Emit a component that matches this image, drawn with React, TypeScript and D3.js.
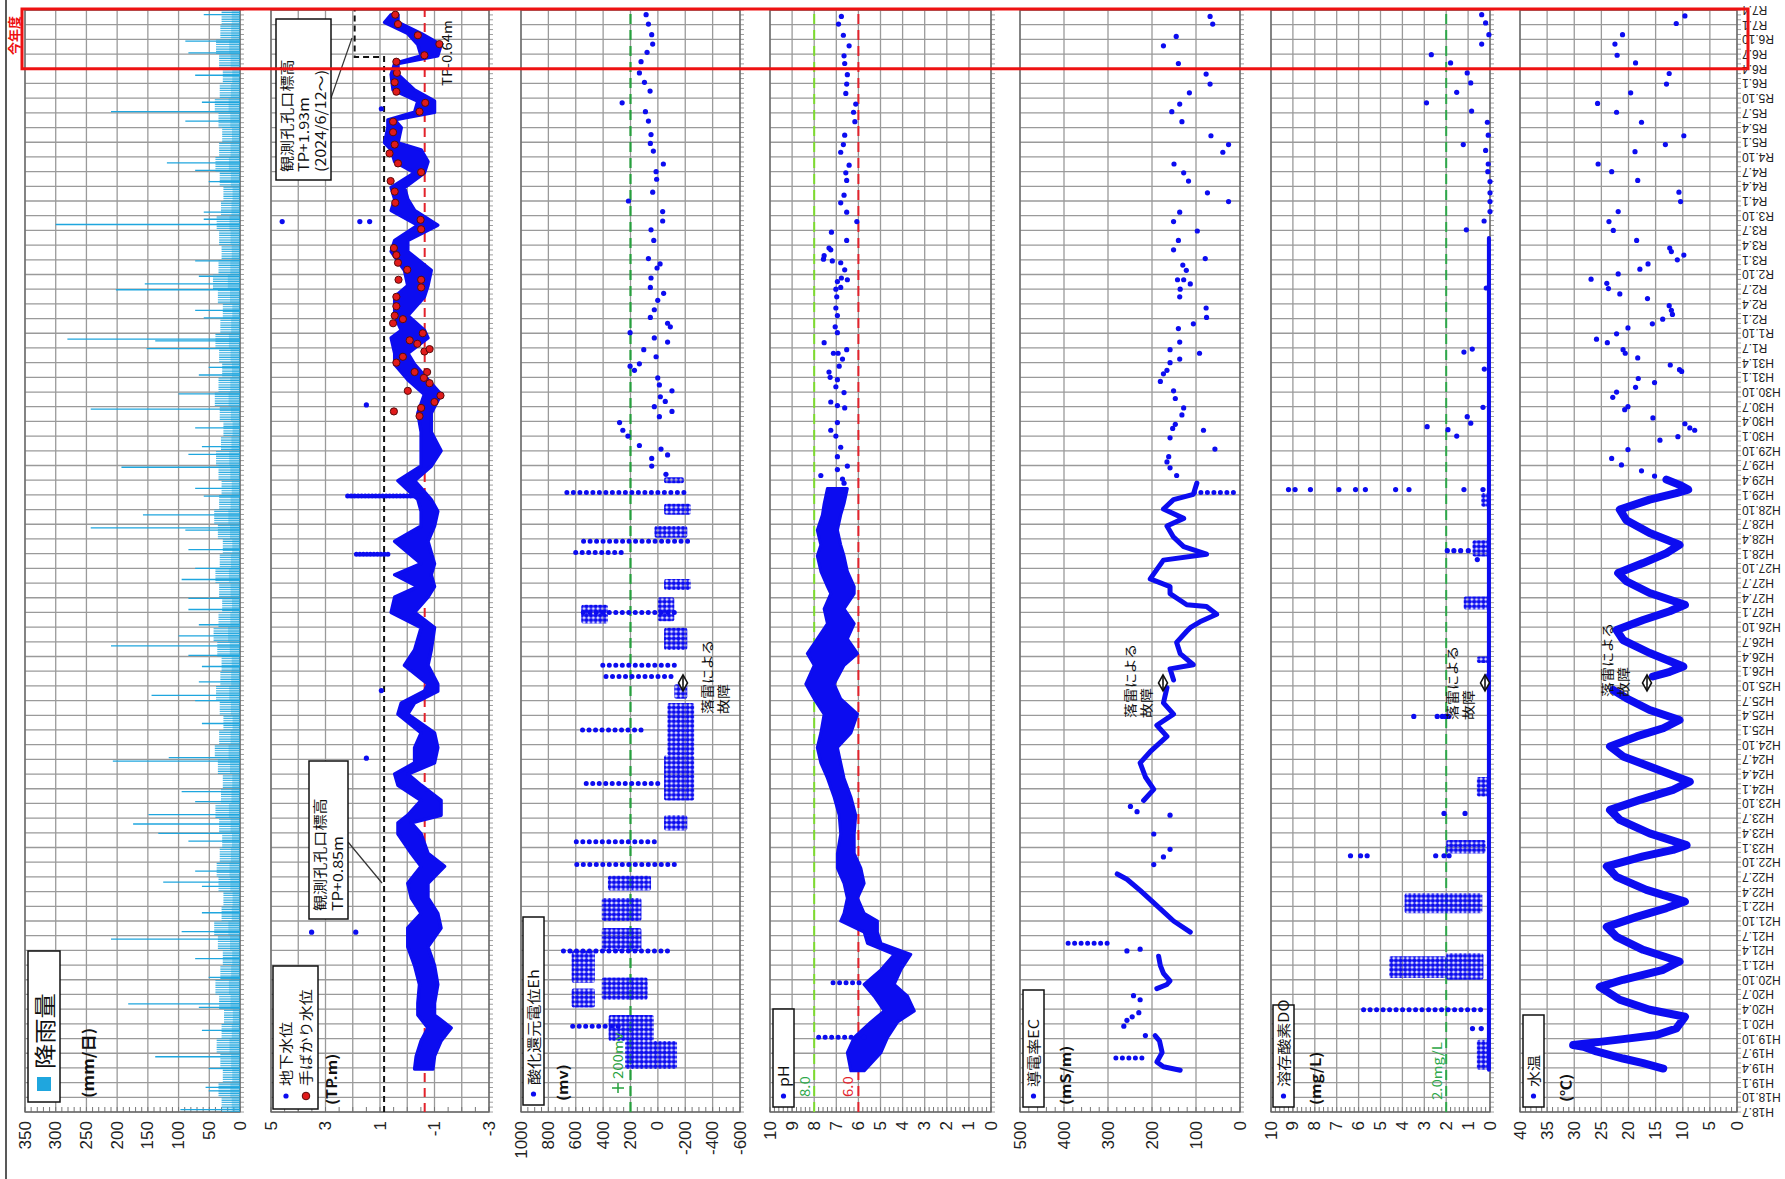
import React from 'react';
import * as d3 from 'd3';

// The source chart is a time-series board that was turned 90deg.
// We draw it upright (time left->right, panels stacked) and rotate the whole group.
const W = 1785;
const H = 1179;
const T0 = 2006.5; // H18.7
const T1 = 2025.25; // R7.4
const BLUE = '#0c0cf0';
const RAIN = '#1fa6de';
const JP = "'Noto Sans CJK JP', 'Noto Sans', sans-serif";
const NUM = "'Liberation Sans', Arial, sans-serif";

// ---------------- tick labels ----------------
const timeLabels = [
  'H18.7', 'H18.10', 'H19.1', 'H19.4', 'H19.7', 'H19.10', 'H20.1', 'H20.4', 'H20.7', 'H20.10',
  'H21.1', 'H21.4', 'H21.7', 'H21.10', 'H22.1', 'H22.4', 'H22.7', 'H22.10', 'H23.1', 'H23.4',
  'H23.7', 'H23.10', 'H24.1', 'H24.4', 'H24.7', 'H24.10', 'H25.1', 'H25.4', 'H25.7', 'H25.10',
  'H26.1', 'H26.4', 'H26.7', 'H26.10', 'H27.1', 'H27.4', 'H27.7', 'H27.10', 'H28.1', 'H28.4',
  'H28.7', 'H28.10', 'H29.1', 'H29.4', 'H29.7', 'H29.10', 'H30.1', 'H30.4', 'H30.7', 'H30.10',
  'H31.1', 'H31.4', 'R1.7', 'R1.10', 'R2.1', 'R2.4', 'R2.7', 'R2.10', 'R3.1', 'R3.4',
  'R3.7', 'R3.10', 'R4.1', 'R4.4', 'R4.7', 'R4.10', 'R5.1', 'R5.4', 'R5.7', 'R5.10',
  'R6.1', 'R6.4', 'R6.7', 'R6.10', 'R7.1', 'R7.4',
];
const rainTicks = [0, 50, 100, 150, 200, 250, 300, 350];
const wlTicks = [-3, -1, 1, 3, 5];
const ehTicks = [-600, -400, -200, 0, 200, 400, 600, 800, 1000];
const phTicks = [0, 1, 2, 3, 4, 5, 6, 7, 8, 9, 10];
const ecTicks = [0, 100, 200, 300, 400, 500];
const doTicks = [0, 1, 2, 3, 4, 5, 6, 7, 8, 9, 10];
const wtTicks = [0, 5, 10, 15, 20, 25, 30, 35, 40];

// ---------------- rainfall (mm/day) ----------------
// [year, mm]
const rainSpikes = [
  [2025.17, 59], [2024.72, 89], [2024.52, 84], [2024.14, 73], [2023.68, 62], [2023.52, 210], [2023.36, 89],
  [2022.65, 119], [2022.52, 73], [2022.33, 51], [2021.81, 59], [2021.69, 59], [2021.6, 300], [2020.98, 73],
  [2020.72, 67], [2020.59, 155], [2020.49, 202], [2020.14, 73], [2020.01, 59], [2019.65, 281], [2019.62, 138],
  [2019.49, 152], [2019.17, 51], [2019.04, 67], [2018.72, 100], [2018.46, 243], [2018.14, 73], [2017.82, 62],
  [2017.69, 84], [2017.47, 193], [2017.11, 73], [2016.98, 59], [2016.66, 158], [2016.44, 243], [2016.4, 89],
  [2016.07, 84], [2015.75, 73], [2015.56, 95], [2015.24, 84], [2015.05, 84], [2014.79, 67], [2014.6, 100],
  [2014.43, 210], [2014.27, 84], [2014.08, 62], [2013.82, 67], [2013.59, 144], [2013.5, 73], [2013.11, 62],
  [2012.53, 116], [2012.47, 207], [2011.95, 95], [2011.78, 73], [2011.56, 149], [2011.4, 174], [2011.24, 133],
  [2011.11, 84], [2010.6, 73], [2010.41, 125], [2010.34, 62], [2009.89, 62], [2009.57, 95], [2009.44, 210],
  [2009.11, 73], [2008.79, 51], [2008.34, 182], [2008.28, 67], [2007.89, 62], [2007.44, 138], [2007.24, 51],
  [2006.92, 56], [2006.86, 51], [2006.54, 97],
];
// extent of the dense band of ordinary rain days, one value per quarter from H18.7
const rainBase = [
  30, 35, 28, 32, 38, 30, 26, 34, 40, 32, 28, 36, 42, 30, 27, 35, 38, 33, 29, 34, 40, 31, 28, 36, 41, 34,
  27, 33, 39, 32, 30, 37, 43, 35, 29, 34, 40, 33, 28, 36, 42, 34, 30, 35, 39, 31, 27, 33, 41, 35, 29, 34,
  40, 32, 28, 36, 44, 35, 30, 34, 38, 31, 27, 33, 40, 34, 29, 35, 41, 33, 28, 34, 39, 32, 30, 33,
];

// ---------------- groundwater level (TP.m) ----------------
// [year, low, high]
const wlBand = [
  [2007.23, -0.94, -0.27], [2007.45, -1.0, -0.33], [2007.71, -1.24, -0.51], [2007.93, -1.61, -0.76],
  [2008.15, -1.0, -0.39], [2008.35, -1.0, -0.39], [2008.67, -1.12, -0.45], [2008.99, -1.0, -0.27],
  [2009.31, -0.76, -0.02], [2009.63, -1.24, -0.02], [2009.88, -1.12, -0.51], [2010.14, -0.76, -0.15],
  [2010.39, -0.76, -0.02], [2010.68, -1.37, -0.51], [2010.9, -0.76, -0.15], [2011.23, -0.51, 0.34],
  [2011.42, -0.15, 0.34], [2011.55, -1.24, -0.02], [2011.8, -1.24, -0.51], [2012.06, -0.51, 0.34],
  [2012.25, -0.02, 0.46], [2012.44, -1.0, -0.27], [2012.7, -1.12, -0.27], [2012.95, -1.0, -0.51],
  [2013.27, -0.02, 0.34], [2013.46, -0.27, 0.22], [2013.66, -1.12, -0.63], [2013.78, -1.12, -0.76],
  [2014.1, -0.76, 0.1], [2014.36, -0.88, -0.27], [2014.74, -1.0, -0.51], [2015.0, -0.27, 0.59],
  [2015.26, -0.76, 0.46], [2015.44, -1.0, -0.39], [2015.64, -0.88, 0.46], [2015.83, -1.0, -0.51],
  [2016.21, -0.76, 0.46], [2016.47, -1.0, -0.51], [2016.72, -1.12, -0.51], [2016.92, -0.88, -0.39],
  [2017.24, -0.27, 0.34], [2017.49, -0.88, -0.51], [2017.75, -1.24, -0.51], [2018.07, -0.88, -0.51],
  [2018.39, -0.88, -0.39], [2018.71, -1.24, -0.63], [2018.96, -0.76, -0.02], [2019.22, -0.27, 0.46],
  [2019.41, -0.02, 0.46], [2019.67, -0.76, 0.59], [2019.8, -0.63, 0.22], [2020.05, -0.02, 0.46],
  [2020.37, -0.63, 0.46], [2020.56, -0.76, -0.02], [2020.82, -0.88, 0.1], [2021.14, -0.02, 0.59],
  [2021.33, -0.02, 0.46], [2021.59, -1.12, -0.39], [2021.84, -0.27, 0.59], [2022.03, -0.02, 0.46],
  [2022.23, 0.1, 0.59], [2022.48, -0.63, -0.27], [2022.67, -0.76, 0.46], [2022.87, -0.51, 0.59],
  [2022.99, 0.34, 0.83], [2023.25, 0.22, 0.71], [2023.38, 0.46, 0.71], [2023.51, -1.0, -0.27],
  [2023.7, -1.0, -0.39], [2023.89, -0.27, 0.52], [2024.15, 0.34, 0.59], [2024.34, 0.34, 0.46],
  [2024.47, -1.12, -0.51], [2024.66, -1.24, -0.39], [2024.85, -0.51, -0.02], [2025.04, 0.34, 0.83],
  [2025.17, 0.34, 0.59],
];
const wlStreaks = [[2015.99, 0.71, 1.99], [2016.98, -0.51, 2.29]];
const wlDots = [
  [2009.56, 3.51], [2009.56, 1.89], [2012.52, 1.5], [2013.67, 0.95], [2021.65, 4.59], [2021.65, 1.74],
  [2021.65, 1.38], [2018.53, 1.5], [2023.57, 0.95],
];
const wlManual = [
  [2025.17, 0.44], [2025.01, 0.34], [2024.82, -0.39], [2024.67, -1.18], [2024.48, -0.63], [2024.37, 0.4],
  [2024.18, 0.38], [2024.02, 0.46], [2023.86, 0.4], [2023.67, -0.66], [2023.52, -0.45], [2023.35, 0.52],
  [2023.17, 0.52], [2022.96, 0.46], [2022.81, 0.65], [2022.64, 0.34], [2022.49, -0.51], [2022.34, 0.61],
  [2022.16, 0.46], [2021.97, 0.44], [2021.68, -0.49], [2021.52, -0.51], [2021.2, 0.49], [2021.08, 0.4],
  [2020.95, 0.34], [2020.83, 0.0], [2020.66, -0.51], [2020.53, -0.51], [2020.66, 0.32], [2020.37, 0.4],
  [2020.21, 0.4], [2020.05, 0.46], [2019.92, 0.52], [2019.99, 0.16], [2019.75, -0.57], [2019.63, -0.09],
  [2019.57, -0.37], [2019.44, -0.63], [2019.48, -0.82], [2019.25, 0.4], [2019.35, 0.16], [2019.09, -0.27],
  [2019.09, -0.73], [2018.99, -0.61], [2018.9, -0.82], [2018.77, -0.02], [2018.69, -1.22], [2018.58, -1.0],
  [2018.48, -0.51], [2018.42, 0.49], [2018.34, -0.45],
];

// ---------------- redox potential Eh (mV) ----------------
// dense clouds [from, to, low, high]
const ehClouds = [
  [2007.23, 2007.71, -140, 240], [2007.71, 2008.15, 30, 360], [2008.28, 2008.6, 460, 630],
  [2008.7, 2009.24, 460, 630], [2008.41, 2008.79, 75, 410], [2009.24, 2009.63, 120, 410],
  [2009.75, 2010.14, 120, 410], [2010.27, 2010.52, 50, 365], [2011.29, 2011.55, -215, -45],
  [2011.8, 2012.57, -265, -45], [2012.57, 2013.46, -265, -70], [2013.53, 2013.78, -215, -120],
  [2014.36, 2014.74, -215, -45], [2014.81, 2015.13, 365, 560], [2014.85, 2015.26, -120, 0],
  [2015.38, 2015.57, -240, -45], [2016.27, 2016.47, -215, 25], [2016.66, 2016.85, -240, -45],
  [2017.2, 2017.3, -190, -45],
];
const ehStreaks = [
  [2007.96, 290, 630], [2009.24, -70, 700], [2010.71, -120, 607], [2011.1, 26, 632], [2012.09, 1, 535],
  [2013.0, 123, 560], [2013.91, -96, 390], [2014.1, -120, 438], [2015.0, -120, 560], [2016.02, 268, 607],
  [2016.21, -217, 580], [2017.04, -190, 705],
];
const ehDots = [
  [2025.17, 86], [2025.01, 69], [2024.83, 45], [2024.67, 38], [2024.53, 79], [2024.37, 123], [2024.18, 135],
  [2024.02, 98], [2023.87, 57], [2023.67, 261], [2023.52, 91], [2023.36, 69], [2023.13, 50], [2022.98, 55],
  [2022.85, 33], [2022.63, -40], [2022.5, 13], [2022.37, 9], [2022.15, 38], [2022.0, 215], [2021.82, -35],
  [2021.66, -35], [2021.51, 50], [2021.33, 30], [2021.02, 69], [2020.93, -16], [2020.86, 6], [2020.69, 50],
  [2020.53, 55], [2020.43, -42], [2020.31, 1], [2020.15, 26], [2020.02, 55], [2019.92, -71], [2019.86, -91],
  [2019.76, 203], [2019.67, 26], [2019.6, -71], [2019.47, 103], [2019.35, 13], [2019.19, 203], [2019.12, 171],
  [2019.23, 135], [2018.99, 1], [2018.87, -11], [2018.77, -103], [2018.67, -18], [2018.59, -54], [2018.5, 26],
  [2018.42, -103], [2018.33, -11], [2018.23, 280], [2018.1, 256], [2018.0, 219], [2017.84, 135],
  [2017.78, -23], [2017.68, -71], [2017.62, 45], [2017.49, 45], [2017.35, -59],
];

// ---------------- pH ----------------
const phBand = [
  [2007.2, 5.74, 6.34], [2007.51, 4.98, 6.5], [2007.77, 4.68, 6.19], [2008.03, 4.23, 5.44], [2008.22, 3.47, 4.83],
  [2008.47, 3.78, 5.29], [2008.67, 4.38, 5.74], [2008.92, 4.08, 4.98], [2009.18, 3.63, 4.38], [2009.37, 4.98, 5.59],
  [2009.56, 5.14, 5.74], [2009.75, 5.14, 6.8], [2009.88, 5.74, 6.65], [2010.14, 6.04, 6.5], [2010.39, 5.74, 6.65],
  [2010.65, 5.89, 6.95], [2010.9, 6.19, 6.95], [2011.23, 6.19, 6.8], [2011.55, 6.12, 6.87], [2011.86, 6.34, 7.1],
  [2012.18, 6.65, 7.4], [2012.44, 6.8, 7.7], [2012.7, 6.95, 7.86], [2012.95, 6.34, 7.7], [2013.27, 6.04, 7.55],
  [2013.53, 6.8, 8.0], [2013.78, 7.1, 8.38], [2014.1, 6.65, 8.0], [2014.3, 6.04, 8.31], [2014.55, 6.5, 7.86],
  [2014.81, 6.19, 7.4], [2015.06, 6.65, 7.55], [2015.32, 6.19, 7.25], [2015.44, 6.19, 7.4], [2015.7, 6.5, 7.7],
  [2015.96, 6.65, 7.86], [2016.15, 6.8, 7.7], [2016.4, 6.95, 7.86], [2016.66, 6.8, 7.63], [2016.85, 6.65, 7.55],
  [2017.11, 6.5, 7.4],
];
const phStreaks = [[2007.77, 5.74, 7.93], [2008.7, 5.97, 7.18]];
const phDots = [
  [2017.2, 6.65], [2017.27, 6.72], [2017.43, 6.95], [2017.33, 7.7], [2017.49, 6.5], [2017.65, 6.95], [2017.81, 6.8],
  [2018.0, 7.02], [2018.1, 7.25], [2018.23, 6.95], [2018.48, 6.62], [2018.52, 6.95], [2018.58, 7.25], [2018.74, 6.65],
  [2018.84, 7.02], [2018.96, 6.95], [2019.0, 7.28], [2019.09, 7.33], [2019.19, 6.87], [2019.31, 6.72], [2019.41, 6.92],
  [2019.47, 6.53], [2019.59, 7.55], [2019.41, 7.13], [2019.76, 6.95], [2019.86, 7.05], [2020.05, 6.95], [2020.18, 7.02],
  [2020.37, 6.98], [2020.5, 7.02], [2020.53, 6.8], [2020.63, 6.95], [2020.69, 6.77], [2020.66, 6.5], [2020.83, 6.62],
  [2020.95, 6.8], [2020.98, 7.18], [2021.01, 7.58], [2021.07, 7.55], [2021.17, 7.25], [2021.2, 7.33], [2021.33, 6.53],
  [2021.47, 7.22], [2021.65, 6.07], [2021.81, 6.53], [2021.97, 6.8], [2022.1, 6.65], [2022.35, 6.53], [2022.48, 6.57],
  [2022.61, 6.42], [2022.83, 6.8], [2022.96, 6.68], [2023.12, 6.62], [2023.35, 6.16], [2023.51, 6.22], [2023.65, 6.12],
  [2023.83, 6.57], [2023.99, 6.53], [2024.15, 6.5], [2024.34, 6.62], [2024.47, 6.65], [2024.64, 6.42], [2024.82, 6.68],
  [2025.01, 6.9], [2025.14, 6.77],
];

// ---------------- electric conductivity EC (mS/m) ----------------
const ecRuns = [
  [[2007.21, 136], [2007.27, 174], [2007.35, 189], [2007.51, 177], [2007.71, 183], [2007.8, 193]],
  [[2008.6, 189], [2008.67, 166], [2008.73, 159], [2008.86, 174], [2008.99, 181], [2009.15, 185]],
  [[2009.56, 113], [2009.75, 151], [2010.01, 189], [2010.27, 227], [2010.46, 257], [2010.55, 279]],
  [[2011.8, 219], [2011.99, 196], [2012.2, 215], [2012.44, 227], [2012.63, 204], [2012.89, 166], [2013.08, 189],
    [2013.27, 151], [2013.46, 174], [2013.72, 166]],
  [[2013.85, 151], [2014.04, 159], [2014.11, 106], [2014.3, 136], [2014.49, 144], [2014.68, 121], [2014.74, 113],
    [2014.84, 91], [2014.97, 53], [2015.1, 76], [2015.13, 121], [2015.32, 159], [2015.44, 159], [2015.57, 204],
    [2015.89, 174], [2015.99, 76], [2016.12, 128], [2016.28, 151], [2016.47, 166], [2016.6, 128], [2016.76, 174],
    [2016.92, 151], [2017.01, 106], [2017.2, 98]],
];
const ecStreaks = [[2007.42, 223, 283], [2009.37, 302, 397], [2017.04, 15, 106]];
const ecDots = [
  [2007.96, 264], [2008.06, 257], [2008.12, 245], [2008.19, 230], [2008.41, 227], [2008.48, 242], [2007.8, 215],
  [2009.24, 257], [2009.27, 227], [2010.71, 196], [2010.84, 174], [2010.97, 159], [2011.23, 196], [2011.55, 159],
  [2011.7, 249], [2011.61, 234], [2017.33, 144], [2017.46, 159], [2017.56, 166], [2018.1, 83], [2017.78, 57],
  [2017.65, 162], [2017.97, 159], [2018.13, 153], [2018.2, 147], [2018.36, 132], [2018.48, 128], [2018.64, 147],
  [2018.77, 151], [2018.93, 181], [2019.06, 174], [2019.12, 166], [2019.25, 159], [2019.31, 137], [2019.41, 92],
  [2019.47, 159], [2019.6, 137], [2019.83, 140], [2019.91, 106], [2020.02, 76], [2020.18, 77], [2020.37, 137],
  [2020.5, 136], [2020.59, 113], [2020.66, 128], [2020.66, 142], [2020.82, 122], [2020.91, 130], [2021.17, 151],
  [2021.33, 140], [2021.02, 79], [2021.49, 97], [2021.65, 151], [2021.81, 137], [2021.99, 26], [2022.14, 74],
  [2022.34, 117], [2022.48, 128], [2022.63, 150], [2022.83, 39], [2022.96, 26], [2023.11, 66], [2023.35, 132],
  [2023.52, 155], [2023.65, 137], [2023.84, 115], [2023.99, 68], [2024.16, 77], [2024.34, 140], [2024.64, 174],
  [2024.8, 145], [2025.01, 62], [2025.14, 68],
];

// ---------------- dissolved oxygen DO (mg/L) ----------------
const doBaseline = [[2007.22, 0.05], [2021.37, 0.05]];
const doClouds = [
  [2007.22, 2007.73, 0, 0.6], [2008.78, 2009.15, 2.0, 4.6], [2008.75, 2009.2, 0.3, 2.0], [2009.88, 2010.22, 0.35, 3.9],
  [2010.9, 2011.13, 0.2, 2.0], [2011.87, 2012.2, 0, 0.6], [2013.74, 2013.97, 0, 0.25], [2014.14, 2014.25, 0, 0.6],
  [2015.05, 2015.27, 0, 1.2], [2015.95, 2016.23, 0, 0.8], [2016.8, 2017.03, 0, 0.4],
];
const doStreaks = [[2008.24, 0.43, 5.84]];
const doDots = [
  [2007.92, 0.8], [2007.92, 0.4], [2010.86, 6.37], [2010.86, 5.91], [2010.86, 5.61], [2010.86, 2.48], [2010.86, 2.1],
  [2010.86, 1.87], [2011.58, 2.1], [2011.58, 1.14], [2013.23, 3.48], [2013.23, 2.41], [2013.23, 2.18], [2013.23, 2.03],
  [2013.23, 1.88], [2016.05, 1.95], [2016.05, 1.65], [2016.05, 1.34], [2016.05, 0.99], [2015.9, 0.58], [2017.09, 9.2],
  [2017.09, 8.9], [2017.09, 8.2], [2017.09, 6.9], [2017.09, 6.14], [2017.09, 5.69], [2017.09, 4.31], [2017.09, 3.7],
  [2017.09, 1.19], [2017.09, 0.32], [2018.0, 1.52], [2018.11, 1.92], [2018.16, 2.87], [2018.22, 0.88], [2018.33, 1.04],
  [2018.49, 0.32], [2019.14, 0.26], [2019.43, 1.19], [2019.48, 0.81], [2020.52, 0.17], [2021.51, 1.08], [2021.66, 0.27],
  [2021.82, 0], [2021.99, 0], [2022.14, 0], [2022.33, 0], [2022.5, 0.1], [2022.63, 0.08], [2022.86, 0.2], [2022.96, 1.22],
  [2023.12, 0.08], [2023.34, 0.12], [2023.53, 0.84], [2023.67, 2.9], [2023.85, 1.52], [2024.01, 0.88], [2024.18, 1.04],
  [2024.35, 1.8], [2024.49, 2.68], [2024.67, 0.38], [2024.83, 0.05], [2025.03, 0.2], [2025.17, 0.38],
];

// ---------------- water temperature (deg C) ----------------
const wtRuns = [
  [[2007.24, 13.6], [2007.33, 17.3], [2007.41, 21.0], [2007.53, 25.9], [2007.61, 28.3], [2007.64, 30.2], [2007.68, 26.5],
    [2007.74, 21.0], [2007.81, 14.8], [2007.92, 11.2], [2008.12, 9.6], [2008.24, 16.1], [2008.41, 21.6], [2008.63, 25.3],
    [2008.75, 21.0], [2008.92, 13.6], [2009.06, 10.6], [2009.26, 17.3], [2009.48, 22.2], [2009.65, 24.0], [2009.82, 18.5],
    [2009.97, 13.0], [2010.08, 9.6], [2010.28, 16.7], [2010.5, 22.2], [2010.68, 24.0], [2010.85, 17.3], [2010.96, 11.8],
    [2011.04, 9.3], [2011.24, 16.1], [2011.47, 21.6], [2011.64, 23.4], [2011.81, 17.9], [2011.98, 11.8], [2012.12, 8.7],
    [2012.38, 16.1], [2012.55, 21.0], [2012.72, 23.4], [2012.89, 18.5], [2013.03, 13.6], [2013.17, 10.6], [2013.34, 16.1],
    [2013.54, 20.4], [2013.68, 22.8]],
  [[2013.91, 15.5], [2013.99, 12.4], [2014.08, 9.9], [2014.31, 16.1], [2014.53, 21.0], [2014.7, 22.2], [2014.87, 17.3],
    [2015.02, 12.4], [2015.13, 9.6], [2015.33, 16.1], [2015.53, 20.4], [2015.67, 21.9], [2015.84, 17.3], [2016.01, 13.0],
    [2016.15, 10.6], [2016.35, 16.1], [2016.57, 20.4], [2016.75, 21.6], [2016.92, 16.1], [2017.03, 11.2], [2017.09, 9.0],
    [2017.17, 10.6], [2017.26, 13.0]],
];
const wtDots = [
  [2017.32, 15.2], [2017.41, 17.6], [2017.51, 21.3], [2017.62, 23.1], [2017.77, 20.1], [2017.93, 14.2], [2017.99, 10.9],
  [2018.1, 7.8], [2018.14, 8.7], [2018.21, 9.6], [2018.31, 15.5], [2018.45, 20.7], [2018.5, 20.1], [2018.66, 22.9],
  [2018.75, 22.2], [2018.83, 18.7], [2018.91, 15.2], [2018.98, 18.2], [2019.1, 10.2], [2019.13, 10.6], [2019.21, 12.3],
  [2019.33, 18.3], [2019.41, 20.6], [2019.47, 21.0], [2019.59, 23.9], [2019.65, 25.9], [2019.74, 22.2], [2019.84, 20.1],
  [2019.91, 15.6], [2019.99, 13.7], [2020.07, 11.9], [2020.14, 12.1], [2020.22, 12.5], [2020.34, 16.5], [2020.42, 21.6],
  [2020.51, 23.7], [2020.6, 24.0], [2020.67, 26.9], [2020.76, 21.9], [2020.84, 17.9], [2020.93, 16.4], [2021.0, 11.0],
  [2021.08, 9.8], [2021.14, 12.1], [2021.2, 12.4], [2021.33, 18.5], [2021.5, 22.8], [2021.65, 23.6], [2021.82, 21.9],
  [2021.99, 10.4], [2022.15, 10.7], [2022.35, 18.3], [2022.5, 23.1], [2022.63, 25.6], [2022.84, 18.8], [2022.96, 13.2],
  [2023.11, 9.8], [2023.34, 17.6], [2023.51, 22.2], [2023.66, 25.7], [2023.84, 19.6], [2023.99, 13.0], [2024.17, 12.5],
  [2024.35, 18.7], [2024.48, 22.1], [2024.67, 22.5], [2024.83, 21.1], [2025.02, 11.2], [2025.15, 9.6],
];

// ---------------- layout ----------------
// un-rotated frame: x = time (67..1169), y = panels stacked (picture x)
const t = d3.scaleLinear().domain([T0, T1]).range([67, 1169]);

interface Panel {
  key: string;
  top: number;
  bottom: number;
  min: number;
  max: number;
  grid: number;
  minor: number;
  ticks: number[];
}

const panels: Panel[] = [
  { key: 'rain', top: 25, bottom: 240, min: 0, max: 350, grid: 50, minor: 10, ticks: rainTicks },
  { key: 'wl', top: 271, bottom: 489, min: -3, max: 5, grid: 1, minor: 0.5, ticks: wlTicks },
  { key: 'eh', top: 521, bottom: 740, min: -600, max: 1000, grid: 200, minor: 50, ticks: ehTicks },
  { key: 'ph', top: 770, bottom: 991, min: 0, max: 10, grid: 1, minor: 0.2, ticks: phTicks },
  { key: 'ec', top: 1020, bottom: 1240, min: 0, max: 500, grid: 100, minor: 20, ticks: ecTicks },
  { key: 'do', top: 1271, bottom: 1490, min: 0, max: 10, grid: 1, minor: 0.2, ticks: doTicks },
  { key: 'wt', top: 1520, bottom: 1737, min: 0, max: 40, grid: 5, minor: 1, ticks: wtTicks },
];

const scaleOf = (key: string) => {
  const p = panels.find((q) => q.key === key)!;
  return d3.scaleLinear().domain([p.min, p.max]).range([p.bottom, p.top]);
};

const quarters = timeLabels.map((_, i) => T0 + i * 0.25);
const months = d3.range(0, 226).map((m) => T0 + m / 12);

function PanelFrame({ p }: { p: Panel }) {
  const y = scaleOf(p.key);
  const grid = d3.range(p.min, p.max + 1e-6, p.grid);
  const minor = d3.range(p.min, p.max + 1e-6, p.minor);
  const x0 = t(T0);
  const x1 = t(T1);
  return (
    <g>
      <rect x={x0} y={p.top} width={x1 - x0} height={p.bottom - p.top} fill="#fff" />
      {quarters.map((q, i) => (
        <line key={'q' + i} x1={t(q)} x2={t(q)} y1={p.top} y2={p.bottom} stroke="#9a9a9a" strokeWidth={1.3} />
      ))}
      {grid.map((v, i) => (
        <line key={'g' + i} x1={x0} x2={x1} y1={y(v)} y2={y(v)} stroke="#9a9a9a" strokeWidth={1.3} />
      ))}
      {minor.map((v, i) => (
        <line key={'m' + i} x1={x0} x2={x0 + 5} y1={y(v)} y2={y(v)} stroke="#777" strokeWidth={1} />
      ))}
      {months.map((m, i) => (
        <line key={'t' + i} x1={t(m)} x2={t(m)} y1={p.bottom} y2={p.bottom + 4} stroke="#888" strokeWidth={0.8} />
      ))}
      <rect x={x0} y={p.top} width={x1 - x0} height={p.bottom - p.top} fill="none" stroke="#666" strokeWidth={1.3} />
      {p.ticks.map((v) => (
        <text key={'l' + v} x={x0 - 9} y={y(v)} textAnchor="end" dominantBaseline="central" fontSize={17}
          fontFamily={NUM} fill="#222">{v}</text>
      ))}
    </g>
  );
}

function Dots({ data, y, r = 2.6, fill = BLUE, stroke = 'none' }: any) {
  return (
    <g>
      {data.map((d: number[], i: number) => (
        <circle key={i} cx={t(d[0])} cy={y(d[1])} r={r} fill={fill} stroke={stroke} strokeWidth={1} />
      ))}
    </g>
  );
}

function Streaks({ data, y, gap = 6.5 }: any) {
  return (
    <g>
      {data.map((d: number[], i: number) => (
        <line key={i} x1={t(d[0])} x2={t(d[0])} y1={y(d[1])} y2={y(d[2])} stroke={BLUE} strokeWidth={5}
          strokeLinecap="round" strokeDasharray={`0 ${gap}`} />
      ))}
    </g>
  );
}

function Clouds({ data, y }: any) {
  return (
    <g>
      {data.map((d: number[], i: number) => (
        <rect key={i} x={t(d[0])} width={t(d[1]) - t(d[0])} y={y(d[3])} height={y(d[2]) - y(d[3])}
          fill="url(#cloud)" rx={2} />
      ))}
    </g>
  );
}

function Band({ data, y, w = 3.5 }: any) {
  const area = d3.area<number[]>().x((d) => t(d[0])).y0((d) => y(d[1])).y1((d) => y(d[2]));
  return <path d={area(data) || ''} fill={BLUE} stroke={BLUE} strokeWidth={w} strokeLinejoin="round" />;
}

function Runs({ data, y, w }: any) {
  const line = d3.line<number[]>().x((d) => t(d[0])).y((d) => y(d[1]));
  return (
    <g>
      {data.map((run: number[][], i: number) => (
        <path key={i} d={line(run) || ''} fill="none" stroke={BLUE} strokeWidth={w} strokeLinejoin="round"
          strokeLinecap="round" />
      ))}
    </g>
  );
}

// horizontal text in the un-rotated frame, slightly widened like the source
function Tx({ x, y, size = 14, fill = '#111', weight = 400, sx = 1.15, children }: any) {
  return (
    <text transform={`translate(${x},${y}) scale(${sx},1)`} fontSize={size} fill={fill} fontWeight={weight}
      fontFamily={JP}>{children}</text>
  );
}

function Legend({ x, y, w, label }: any) {
  return (
    <g>
      <rect x={x} y={y} width={w} height={21} fill="#fff" stroke="#111" strokeWidth={1.5} />
      <circle cx={x + 11} cy={y + 10.5} r={2.6} fill={BLUE} />
      <Tx x={x + 20} y={y + 16} size={14}>{label}</Tx>
    </g>
  );
}

function Fault({ x, lineY }: any) {
  return (
    <g>
      <Tx x={x} y={lineY} size={13}>落雷による</Tx>
      <Tx x={x} y={lineY + 16} size={13}>故障</Tx>
    </g>
  );
}

function FaultMark({ x, y }: any) {
  return (
    <g transform={`translate(${x},${y})`}>
      <path d="M-8,0 L0,-4.5 L8,0 L0,4.5 Z" fill="#fff" stroke="#111" strokeWidth={1.6} />
      <line x1={-8} x2={8} y1={0} y2={0} stroke="#111" strokeWidth={1.6} />
    </g>
  );
}

export default function App() {
  const yR = scaleOf('rain');
  const yW = scaleOf('wl');
  const yE = scaleOf('eh');
  const yP = scaleOf('ph');
  const yC = scaleOf('ec');
  const yD = scaleOf('do');
  const yT = scaleOf('wt');

  const rainArea = d3
    .area<number>()
    .x((_, i) => t(T0 + i * 0.25))
    .y0(yR(0))
    .y1((d) => yR(d))
    .curve(d3.curveStepAfter);

  const faultX = t(2013.8);

  return (
    <svg width={W} height={H} style={{ position: 'absolute', left: 0, top: 0, background: '#fff' }}>
      <defs>
        <pattern id="cloud" width="4.6" height="4.6" patternUnits="userSpaceOnUse">
          <circle cx="2.3" cy="2.3" r="2.2" fill={BLUE} />
        </pattern>
        {/* thin daily strokes for the ordinary rain days */}
        <pattern id="hatch" width="2.3" height="12" patternUnits="userSpaceOnUse">
          <line x1="0.6" x2="0.6" y1="0" y2="12" stroke={RAIN} strokeWidth="1.1" />
        </pattern>
      </defs>
      <rect width={W} height={H} fill="#fff" />
      <g transform={`translate(0,${H}) rotate(-90)`}>
        <line x1={0} x2={H} y1={6} y2={6} stroke="#222" strokeWidth={1.5} />
        {panels.map((p) => (
          <PanelFrame key={p.key} p={p} />
        ))}

        {/* time labels */}
        {timeLabels.map((lab, i) => (
          <text key={lab} transform={`translate(${t(quarters[i])},1742) rotate(-90)`} textAnchor="end"
            dominantBaseline="central" fontSize={12} fontFamily={NUM} fill="#222">{lab}</text>
        ))}

        {/* rainfall */}
        <path d={rainArea(rainBase) || ''} fill="url(#hatch)" />
        <path d={rainArea(rainBase.map((v) => v * 0.45)) || ''} fill={RAIN} opacity={0.35} />
        {rainSpikes.map((d, i) => (
          <line key={i} x1={t(d[0])} x2={t(d[0])} y1={yR(0)} y2={yR(d[1])} stroke={RAIN} strokeWidth={1.3} />
        ))}
        <rect x={77} y={28} width={151} height={32} fill="#fff" stroke="#111" strokeWidth={1.5} />
        <rect x={88} y={37} width={14} height={14} fill={RAIN} />
        <Tx x={110} y={53} size={22}>降雨量</Tx>
        <Tx x={81} y={94} size={15} weight={700}>(mm/日)</Tx>

        {/* groundwater level */}
        <line x1={t(T0)} x2={t(T1)} y1={yW(-0.64)} y2={yW(-0.64)} stroke="#e3222b" strokeWidth={2}
          strokeDasharray="9 6" />
        <path d={`M${t(T0)},${yW(0.85)} H${t(2024.45)} V${yW(1.93)} H${t(T1)}`} fill="none" stroke="#111"
          strokeWidth={2} strokeDasharray="6 4" />
        <Band data={wlBand} y={yW} />
        <Streaks data={wlStreaks} y={yW} gap={3.5} />
        <Dots data={wlDots} y={yW} />
        <Dots data={wlManual} y={yW} r={3.6} fill="#e01b1b" stroke="#5a0a0a" />
        <rect x={70} y={273} width={143} height={45} fill="#fff" stroke="#111" strokeWidth={1.5} />
        <circle cx={83} cy={286} r={2.6} fill={BLUE} />
        <Tx x={93} y={291} size={14}>地下水位</Tx>
        <circle cx={83} cy={306} r={3.8} fill="#e01b1b" stroke="#5a0a0a" />
        <Tx x={93} y={311} size={14}>手ばかり水位</Tx>
        <Tx x={74} y={337} size={14} weight={700}>(TP.m)</Tx>
        <line x1={337} y1={348} x2={296} y2={382} stroke="#333" strokeWidth={1.2} />
        <rect x={260} y={309} width={158} height={39} fill="#fff" stroke="#111" strokeWidth={1.5} />
        <Tx x={268} y={325} size={14}>観測孔孔口標高</Tx>
        <Tx x={268} y={343} size={14}>TP+0.85m</Tx>
        <line x1={1081} y1={331} x2={1141} y2={352} stroke="#333" strokeWidth={1.2} />
        <rect x={999} y={276} width={161} height={55} fill="#fff" stroke="#111" strokeWidth={1.5} />
        <Tx x={1007} y={292} size={14}>観測孔孔口標高</Tx>
        <Tx x={1007} y={309} size={14}>TP+1.93m</Tx>
        <Tx x={1007} y={326} size={14}>(2024/6/12～)</Tx>
        <Tx x={1093} y={452} size={13}>TP-0.64m</Tx>

        {/* Eh */}
        <line x1={t(T0)} x2={t(T1)} y1={yE(200)} y2={yE(200)} stroke="#25a03c" strokeWidth={2.2}
          strokeDasharray="10 6" />
        <Clouds data={ehClouds} y={yE} />
        <Streaks data={ehStreaks} y={yE} />
        <Dots data={ehDots} y={yE} />
        <Legend x={74} y={523} w={188} label="酸化還元電位Eh" />
        <Tx x={78} y={568} size={14} weight={700}>(mv)</Tx>
        <line x1={91} x2={91} y1={612} y2={624} stroke="#25a03c" strokeWidth={1.5} />
        <line x1={86} x2={96} y1={618} y2={618} stroke="#25a03c" strokeWidth={1.5} />
        <Tx x={100} y={623} size={13} fill="#25a03c">200mv</Tx>
        <Fault x={465} lineY={712} />
        <FaultMark x={faultX} y={683} />

        {/* pH */}
        <line x1={t(T0)} x2={t(T1)} y1={yP(8)} y2={yP(8)} stroke="#7ddc2e" strokeWidth={2} strokeDasharray="10 6" />
        <line x1={t(T0)} x2={t(T1)} y1={yP(6)} y2={yP(6)} stroke="#e3222b" strokeWidth={2} strokeDasharray="10 6" />
        <Band data={phBand} y={yP} w={3} />
        <Streaks data={phStreaks} y={yP} />
        <Dots data={phDots} y={yP} />
        <Legend x={72} y={773} w={98} label="pH" />
        <Tx x={82} y={810} size={13} fill="#2ea84a">8.0</Tx>
        <Tx x={82} y={853} size={13} fill="#e3222b">6.0</Tx>

        {/* EC */}
        <Runs data={ecRuns} y={yC} w={5} />
        <Streaks data={ecStreaks} y={yC} />
        <Dots data={ecDots} y={yC} />
        <Legend x={72} y={1023} w={117} label="導電率EC" />
        <Tx x={74} y={1071} size={14} weight={700}>(mS/m)</Tx>
        <Fault x={461} lineY={1135} />
        <FaultMark x={faultX} y={1163} />

        {/* DO */}
        <line x1={t(T0)} x2={t(T1)} y1={yD(2)} y2={yD(2)} stroke="#2ea84a" strokeWidth={2} strokeDasharray="10 6" />
        <Runs data={[doBaseline]} y={yD} w={4} />
        <Clouds data={doClouds} y={yD} />
        <Streaks data={doStreaks} y={yD} />
        <Dots data={doDots} y={yD} />
        <Legend x={72} y={1273} w={102} label="溶存酸素DO" />
        <Tx x={74} y={1321} size={14} weight={700}>(mg/L)</Tx>
        <Tx x={79} y={1442} size={13} fill="#2ea84a">2.0mg/L</Tx>
        <Fault x={459} lineY={1457} />
        <FaultMark x={faultX} y={1485} />

        {/* water temperature */}
        <Runs data={wtRuns} y={yT} w={8} />
        <Dots data={wtDots} y={yT} />
        <Legend x={72} y={1523} w={92} label="水温" />
        <Tx x={77} y={1571} size={14} weight={700}>(℃)</Tx>
        <Fault x={482} lineY={1612} />
        <FaultMark x={faultX} y={1647} />

        {/* current fiscal year */}
        <rect x={t(2024.25)} y={22} width={t(T1) + 1 - t(2024.25)} height={1726} fill="none" stroke="#ee1111"
          strokeWidth={3} />
        <Tx x={1124} y={19} size={13} fill="#ee1111" weight={700} sx={1}>今年度</Tx>
      </g>
    </svg>
  );
}
